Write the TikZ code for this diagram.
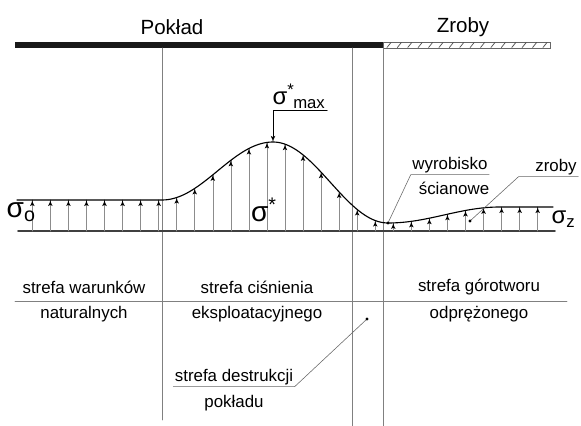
\documentclass[tikz,border=0pt]{standalone}
\usepackage{fontspec}
\setmainfont{Liberation Sans}
\usetikzlibrary{arrows,positioning,calc}

\begin{document}
\begin{tikzpicture}[x=0.025cm, y=-0.025cm, >=latex', line cap=round,
    every node/.style={font=\fontsize{12}{14}\selectfont, inner sep=1pt},
    title/.style={font=\fontsize{14.6}{17}\selectfont},
    sigbig/.style={font=\fontsize{20}{22}\selectfont},
    sigsmall/.style={font=\fontsize{17}{19}\selectfont},
    divider/.style={draw=black!50, line width=0.4pt},
    shaft/.style={draw=black!45, line width=0.4pt},
    tip/.style={->, draw=black, line width=0.5pt},
    lead/.style={draw=black!60, line width=0.4pt},
    declare function={prof(\u)=ifthenelse(\u<162,200,
        ifthenelse(\u<273,200-29*(1-cos(1.6216*(\u-162))),
        ifthenelse(\u<388,223-40.5*(1+cos(1.5652*(\u-273))),
        ifthenelse(\u<500,223-8*(1-cos(1.6071*(\u-388))),207))));}]
    \useasboundingbox (0,0) rectangle (581,426);

    % seam and goaf
    \fill[black!90] (15,42) rectangle (383,48);
    \draw[black!60, line width=0.4pt] (383,42) rectangle (550,48);
    \foreach \s in {0,...,15}
        \draw[black!70, line width=0.5pt] ({387+10.4*\s},47.5) -- ({391+10.4*\s},42.5);
    \node[title] (poklad) at (172,27) {Pokład};
    \node[title] (zrobyTop) at (463,27) {Zroby};

    % zone borders
    \draw[divider] (162,48) -- (162,420);
    \draw[divider] (352,48) -- (352,426);
    \draw[divider] (383,48) -- (383,426);

    % stress profile
    \draw[black!75, line width=1.1pt] (18,231) -- (555,231);
    \foreach \k in {0,...,28} {
        \pgfmathsetmacro{\xa}{32.3+18.05*\k}
        \pgfmathsetmacro{\ya}{prof(\xa)}
        \draw[shaft] (\xa,231) -- (\xa,\ya);
        \draw[tip] (\xa,\ya+4) -- (\xa,\ya);
    }
    \draw[black, line width=0.8pt] plot[domain=17:553, samples=200] (\x,{prof(\x)});

    \node[sigbig, anchor=west] (sig0) at (5,212) {σ\textsubscript{o}};
    \node[sigbig] (sigs) at (264,210) {σ\textsuperscript{*}};
    \node[sigsmall, anchor=west] (sigz) at (550,219) {σ\textsubscript{z}};
    \coordinate (peak) at (273,142);
    \node[sigsmall, anchor=south west] (smax) at (271,110) {σ\textsuperscript{*}\kern-1pt\textsubscript{max}};
    \draw[->, black, line width=0.5pt] (smax.south east) -| (peak);

    % labels with leaders
    \node (wyr) at (450,165) {wyrobisko};
    \node (scian) at (454,188) {ścianowe};
    \coordinate (wyrDot) at (388,223);
    \draw[lead] (wyr.south east) -- (wyr.south west) -- (wyrDot);
    \fill (wyrDot) circle (1.1pt);

    \node (zroby) at (556,167) {zroby};
    \coordinate (zrobyDot) at (470,221);
    \draw[lead] (zroby.south east) -- ($(zroby.south west)+(-15,0)$) -- (zrobyDot);
    \fill (zrobyDot) circle (1.1pt);

    % zones
    \draw[divider] (15,301) -- (567,301);
    \node (natA) at (84,287) {strefa warunków};
    \node (natB) at (84,314) {naturalnych};
    \node (eksA) at (257,287) {strefa ciśnienia};
    \node (eksB) at (257,314) {eksploatacyjnego};
    \node (odpA) at (479,287) {strefa górotworu};
    \node (odpB) at (479,314) {odprężonego};

    \node (dest) at (234,377) {strefa destrukcji};
    \node (destB) at (234,403) {pokładu};
    \coordinate (destDot) at (367,319);
    \draw[lead] (dest.south west) -- (dest.south east) -- (destDot);
    \fill (destDot) circle (1.1pt);
\end{tikzpicture}
\end{document}
